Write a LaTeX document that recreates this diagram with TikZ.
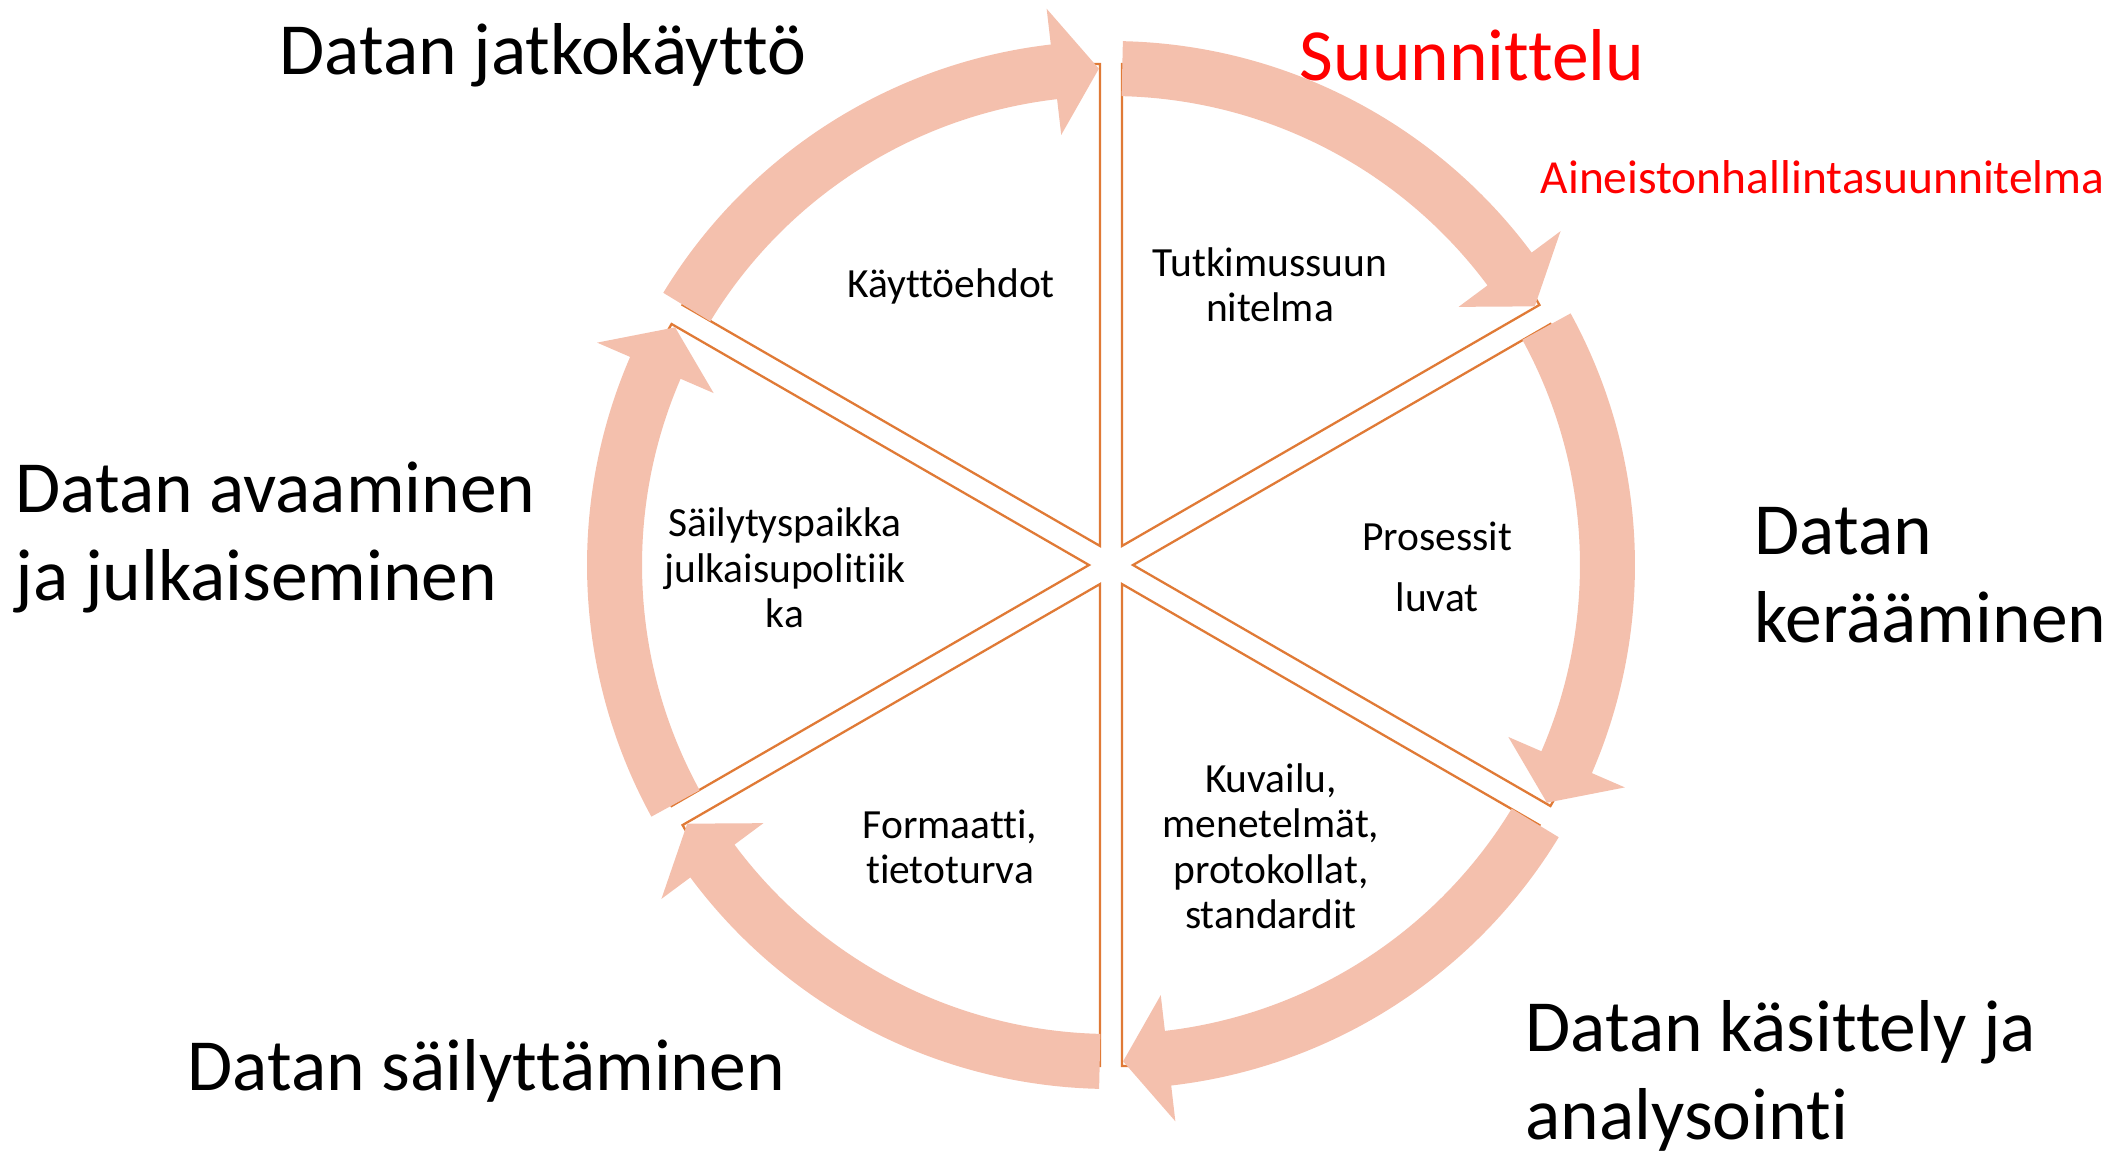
\documentclass[tikz,border=0pt]{standalone}
\usepackage{fontspec}
\setmainfont{Carlito}[Ligatures=NoCommon]
\definecolor{bandpink}{RGB}{244,192,173}
\definecolor{wedgeline}{RGB}{224,122,54}
\definecolor{planred}{RGB}{255,0,0}
\newcommand{\phasefont}{\fontsize{20.9}{24.8}\selectfont}
\newcommand{\notefont}{\fontsize{13.5}{16}\selectfont}
\newcommand{\taskfont}{\fontsize{11.8}{12.8}\selectfont}

\begin{document}
\begin{tikzpicture}[x=0.01cm, y=0.01cm,
    wedge/.style={draw=wedgeline, line width=0.65pt, fill=white},
    band/.style={fill=bandpink},
    phase/.style={font=\phasefont, inner sep=0pt, anchor=base west, align=left},
    task/.style={font=\taskfont, inner sep=0pt, anchor=base, align=center}]
    \useasboundingbox (-1111,-588) rectangle (1007,565);
    % segments
    \foreach \a in {90,30,-30,-90,-150,150}
    {
       \draw [wedge, shift={(\a-30:22)}] (0,0) -- (\a:482) arc [start angle=\a, end angle=\a-60, radius=482] -- cycle;
    }
    % arrows
    \foreach \a in {90,30,-30,-90,-150,150}
    {
       \fill [band] (\a-1.3:469) arc [start angle=\a-1.3, end angle=\a-53.4, radius=469]
          -- (\a-53.4:433) -- (\a-58.6:496.5) -- (\a-53.4:560) -- (\a-53.4:524)
          arc [start angle=\a-53.4, end angle=\a-1.3, radius=524] -- cycle;
    }

    % base anchor = last line
    \node [phase] (jatko) at (-832,491) {Datan jatkokäyttö};
    \node [phase, text=planred] (suunnittelu) at (188,485) {Suunnittelu};
    \node [phase, font=\notefont, text=planred] (dmp) at (429,372) {Aineistonhallintasuunnitelma};
    \node [phase] (keraaminen) at (643,-77) {Datan\\kerääminen};
    \node [phase] (kasittely) at (414,-574) {Datan käsittely ja\\analysointi};
    \node [phase] (sailyttaminen) at (-924,-525) {Datan säilyttäminen};
    \node [phase] (avaaminen) at (-1096,-35) {Datan avaaminen\\ja julkaiseminen};

    \node [task] (ehdot) at (-160,268) {Käyttöehdot};
    \node [task] (tutkimus) at (159,244) {Tutkimussuun\\nitelma};
    \node [task] (prosessit) at (326,-46) {Prosessit\\[4.3pt]luvat};
    \node [task] (kuvailu) at (160,-363) {Kuvailu,\\menetelmät,\\protokollat,\\standardit};
    \node [task] (formaatti) at (-161,-318) {Formaatti,\\tietoturva};
    \node [task] (paikka) at (-326,-62) {Säilytyspaikka\\julkaisupolitiik\\ka};
\end{tikzpicture}
\end{document}
